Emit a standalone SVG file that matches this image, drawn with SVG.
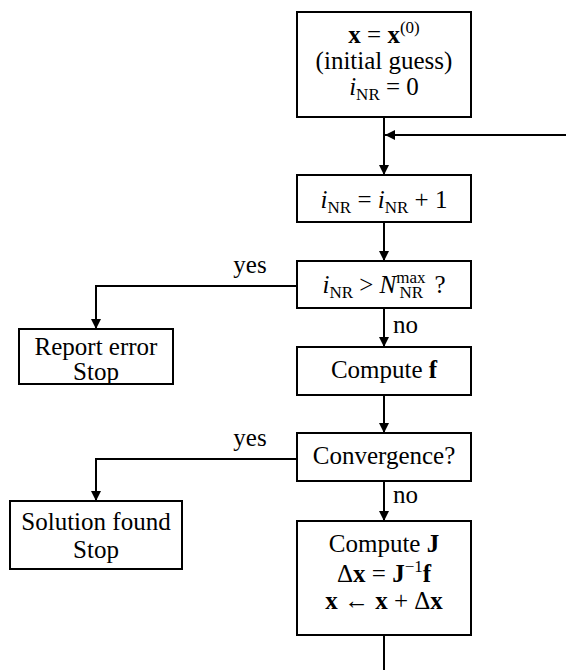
<svg xmlns="http://www.w3.org/2000/svg" width="566" height="670" viewBox="0 0 566 670">
<style>
.box{fill:#fff;stroke:#000;stroke-width:2}
.ln{fill:none;stroke:#000;stroke-width:2}
text{font-size:25px;fill:#000}
.c{text-anchor:middle}
.b{font-weight:bold}
.i{font-style:italic}
.s{font-size:17px}
</style>
<defs>
<marker id="ah" markerWidth="10" markerHeight="14" refX="10" refY="7" orient="auto" markerUnits="userSpaceOnUse">
<path d="M0,2 L10,7 L0,12 z" fill="#000"/>
</marker>
</defs>
<rect width="566" height="670" fill="#fff"/>
<g font-family="Liberation Serif, DejaVu Serif, serif">
<g id="connectors">
<path class="ln" d="M384,117 V175" marker-end="url(#ah)"/>
<path class="ln" d="M566,135 H385" marker-end="url(#ah)"/>
<path class="ln" d="M384,222 V261" marker-end="url(#ah)"/>
<path class="ln" d="M297,286 H96 V329" marker-end="url(#ah)"/>
<path class="ln" d="M384,308 V347" marker-end="url(#ah)"/>
<path class="ln" d="M384,395 V433" marker-end="url(#ah)"/>
<path class="ln" d="M297,459 H96 V501" marker-end="url(#ah)"/>
<path class="ln" d="M384,481 V521" marker-end="url(#ah)"/>
<path class="ln" d="M384,635 V670"/>
<text x="250" y="273" class="c">yes</text>
<text x="393" y="333">no</text>
<text x="250" y="446" class="c">yes</text>
<text x="393" y="503">no</text>
</g>
<g id="init">
<rect class="box" x="297" y="12" width="174" height="105"/>
<text x="384" y="43" class="c"><tspan class="b">x</tspan> = <tspan class="b">x</tspan><tspan class="s" dy="-10">(0)</tspan></text>
<text x="384" y="69" class="c">(initial guess)</text>
<text x="384" y="95" class="c"><tspan class="i">i</tspan><tspan class="s" dy="5">NR</tspan><tspan dy="-5"> = 0</tspan></text>
</g>
<g id="incr">
<rect class="box" x="297" y="175" width="174" height="47"/>
<text x="384" y="208" class="c"><tspan class="i">i</tspan><tspan class="s" dy="5">NR</tspan><tspan dy="-5"> = </tspan><tspan class="i">i</tspan><tspan class="s" dy="5">NR</tspan><tspan dy="-5"> + 1</tspan></text>
</g>
<g id="check">
<rect class="box" x="297" y="261" width="174" height="47"/>
<text x="384" y="293" class="c"><tspan class="i">i</tspan><tspan class="s" dy="5">NR</tspan><tspan dy="-5"> &gt; </tspan><tspan class="i">N</tspan><tspan class="s" dy="-10">max</tspan><tspan class="s" dx="-26" dy="15">NR</tspan><tspan dx="5" dy="-5"> ?</tspan></text>
</g>
<g id="error">
<rect class="box" x="19" y="329" width="154" height="55"/>
<text x="96" y="355" class="c">Report error</text>
<text x="96" y="380" class="c">Stop</text>
</g>
<g id="computef">
<rect class="box" x="297" y="347" width="174" height="48"/>
<text x="384" y="378" class="c">Compute <tspan class="b">f</tspan></text>
</g>
<g id="conv">
<rect class="box" x="297" y="433" width="174" height="48"/>
<text x="384" y="464" class="c">Convergence?</text>
</g>
<g id="solution">
<rect class="box" x="10" y="501" width="172" height="68"/>
<text x="96" y="530" class="c">Solution found</text>
<text x="96" y="558" class="c">Stop</text>
</g>
<g id="update">
<rect class="box" x="297" y="521" width="174" height="114"/>
<text x="384" y="552" class="c">Compute <tspan class="b">J</tspan></text>
<text x="384" y="582" class="c">Δ<tspan class="b">x</tspan> = <tspan class="b">J</tspan><tspan class="s" dy="-10">−1</tspan><tspan class="b" dy="10">f</tspan></text>
<text x="384" y="609" class="c"><tspan class="b">x</tspan> ← <tspan class="b">x</tspan> + Δ<tspan class="b">x</tspan></text>
</g>
</g>
</svg>
